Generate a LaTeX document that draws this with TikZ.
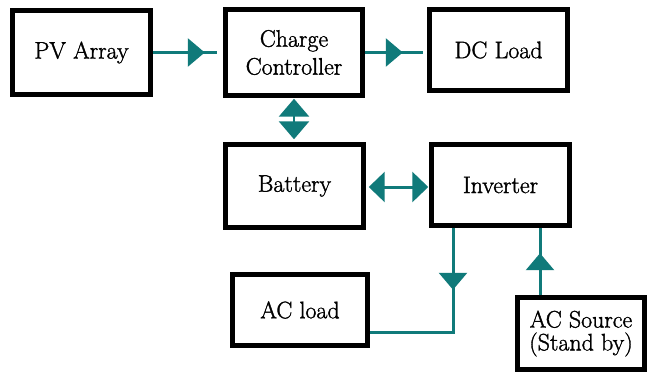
\documentclass[tikz,border=0pt]{standalone}
\usepackage{fontspec}
\newfontfamily\boxfont{Latin Modern Roman}[FakeBold=1.4]
\usetikzlibrary{arrows.meta,decorations.markings}
\definecolor{conn}{RGB}{16,122,122}
\tikzset{
  blockbox/.style={draw=black, line width=4.5pt, fill=white, align=center,
    font=\boxfont\fontsize{24}{24}\selectfont, inner sep=0pt},
  conline/.style={draw=conn, line width=3pt},
  midhead/.style={postaction={decorate,decoration={markings,
     mark=at position #1 with {\arrow[conn]{Triangle[length=17pt,width=28pt]}}}}}
}
\begin{document}
\begin{tikzpicture}[x=1bp,y=-1bp]
\useasboundingbox (0,0) rectangle (648,374);
\fill[white] (0,0) rectangle (648,374);
\node[blockbox, minimum width=138bp, minimum height=84bp] (pv) at (81.5,52.5) {PV Array};
\node[blockbox, minimum width=137bp, minimum height=86bp, font=\boxfont\fontsize{24}{28}\selectfont] (cc) at (294,52.5) {Charge\\Controller};
\node[blockbox, minimum width=138bp, minimum height=81bp] (dc) at (498.5,50) {DC Load};
\node[blockbox, minimum width=138bp, minimum height=83bp] (bat) at (294.5,186) {Battery};
\node[blockbox, minimum width=138bp, minimum height=81bp] (inv) at (500.5,185) {Inverter};
\node[blockbox, minimum width=135bp, minimum height=71bp] (acl) at (300,310) {AC load};
\node[blockbox, minimum width=127bp, minimum height=72bp, font=\boxfont\fontsize{24}{23}\selectfont] (acs) at (581,333.5) {AC Source\\(Stand by)};
\coordinate (turn) at (453,332);
\coordinate (srcx) at (540,0);
% connectors
\draw[conline, shorten >=6bp, midhead=52bp] (pv.east) -- (cc.west|-pv.east);
\draw[conline, shorten >=4bp, midhead=38bp] (cc.east|-pv.east) -- (dc.west|-pv.east);
\draw[conline, {Triangle[length=18pt,width=30pt]}-{Triangle[length=18pt,width=30pt]}, shorten <=1bp, shorten >=3bp] (cc.south) -- (bat.north-|cc.south);
\draw[conline, {Triangle[length=16pt,width=30pt]}-{Triangle[length=16pt,width=30pt]}, shorten <=3bp, shorten >=1bp] (bat.east|-0,187) -- (inv.west|-0,187);
\draw[conline, midhead=62bp] (inv.south-|turn) -- (turn) -- (acl.east|-turn);
\draw[conline, midhead=42bp] (acs.north-|srcx) -- (inv.south-|srcx);
\end{tikzpicture}
\end{document}
